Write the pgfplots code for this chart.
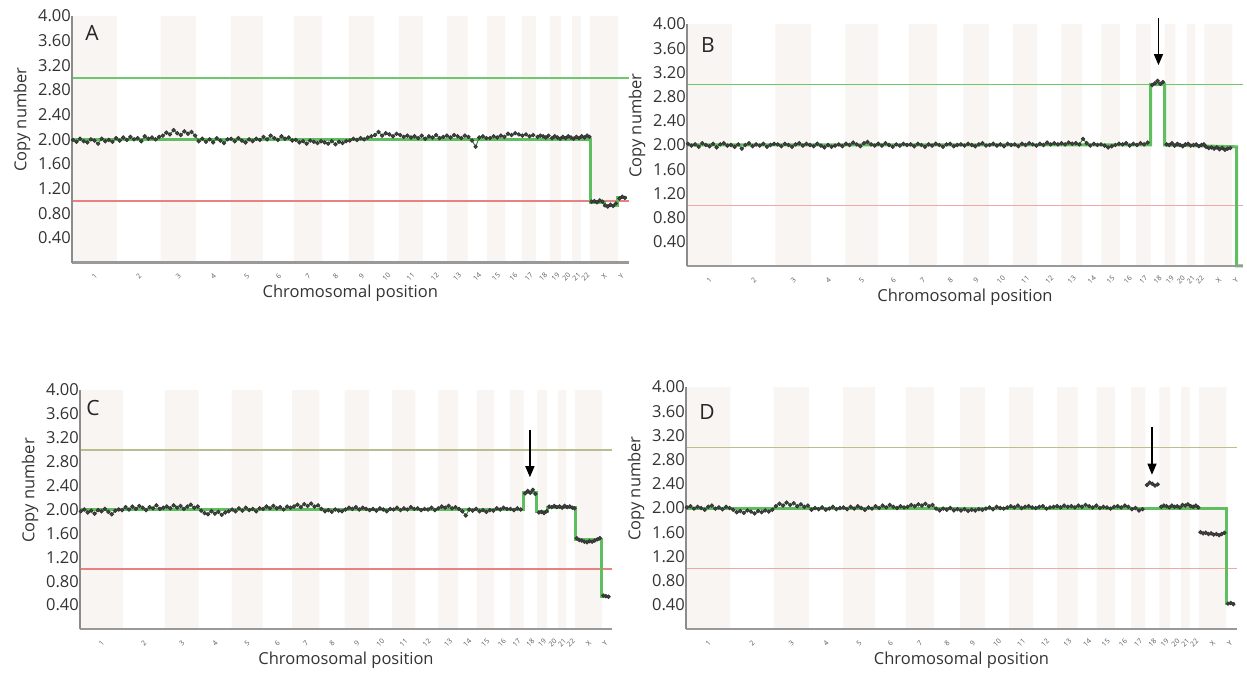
\documentclass[border=0pt]{standalone}
\usepackage{fontspec}
\setmainfont{Open Sans}
\usepackage{pgfplots}
\usepackage{pgfplotstable}
\pgfplotsset{compat=1.18}
\usetikzlibrary{arrows.meta}

\definecolor{band}{RGB}{248,245,243}
\definecolor{gainline}{RGB}{110,200,110}
\definecolor{gainlinetan}{RGB}{185,190,140}
\definecolor{lossline}{RGB}{232,130,130}
\definecolor{segline}{RGB}{95,190,95}
\definecolor{dotline}{RGB}{45,125,45}
\definecolor{labelgray}{RGB}{51,51,51}

% chromosome bands: odd chromosomes shaded (hg19 lengths, Mb, cumulative)
\pgfplotstableread{
x y
0 4
249.25 0
492.45 4
690.47 0
881.62 4
1062.54 0
1233.66 4
1392.80 0
1539.16 4
1680.37 0
1815.90 4
1950.91 0
2084.76 4
2199.93 0
2307.28 4
2409.81 0
2500.16 4
2581.36 0
2659.44 4
2718.57 0
2781.60 4
2829.73 0
2881.03 4
3036.30 0
3095.67 0
}\bands

% copy number per bin, panels A-D
\pgfplotstableread{
x A B C D
5 1.99 2.02 1.97 2.01
25 1.96 1.99 2.00 2.03
45 2.01 2.01 1.95 1.99
65 1.97 1.97 1.98 2.02
85 1.95 2.03 1.93 2.00
105 2.00 2.00 1.99 1.97
125 1.98 1.98 1.97 2.02
145 1.93 2.02 2.01 2.04
165 2.01 1.96 1.96 1.99
185 1.97 2.01 1.92 2.01
205 1.99 2.03 1.98 1.98
225 1.96 1.99 2.00 2.02
245 2.02 2.00 1.99 2.00
265 1.98 1.97 2.04 1.97
285 2.03 2.01 2.00 1.93
305 1.99 1.94 2.05 1.95
325 2.04 2.00 2.01 1.92
345 2.00 2.03 2.06 1.96
365 2.02 1.98 2.03 1.94
385 1.97 2.01 1.99 1.91
405 2.05 1.99 2.04 1.95
425 2.01 2.02 2.02 1.93
445 2.03 1.97 2.07 1.96
465 2.00 2.00 2.01 1.94
485 2.04 2.02 2.03 1.97
505 2.06 2.01 2.05 2.03
525 2.11 1.98 2.02 2.07
545 2.08 2.02 2.07 2.04
565 2.15 2.00 2.03 2.09
585 2.10 1.97 2.06 2.05
605 2.07 2.01 2.01 2.08
625 2.13 2.03 2.05 2.03
645 2.09 1.99 2.08 2.06
665 2.12 2.02 2.03 2.02
685 2.06 2.00 2.05 2.04
705 1.97 1.98 1.98 1.97
725 2.01 2.02 1.94 2.00
745 1.96 1.99 1.92 1.98
765 2.00 1.96 1.97 2.01
785 1.95 2.00 1.93 1.97
805 2.02 1.97 1.96 1.99
825 1.98 1.99 1.91 2.02
845 1.94 2.01 1.95 1.98
865 2.00 1.98 1.97 2.00
885 2.01 2.02 2.00 2.01
905 1.97 2.00 1.97 1.98
925 2.02 2.04 2.02 2.02
945 1.98 2.01 1.98 1.99
965 1.95 1.98 2.03 2.03
985 2.00 2.03 1.99 2.00
1005 1.97 2.05 2.01 1.97
1025 2.01 2.01 1.97 2.01
1045 1.99 1.99 2.02 1.99
1065 2.04 2.02 2.01 2.03
1085 2.00 1.99 2.05 2.00
1105 2.06 2.03 2.02 2.04
1125 2.02 2.00 2.06 2.01
1145 1.99 1.97 2.02 2.05
1165 2.05 2.01 2.04 2.02
1185 2.01 1.99 2.00 2.00
1205 2.03 2.02 2.05 2.03
1225 1.98 2.00 2.03 2.01
1245 1.99 2.01 2.05 2.02
1265 1.95 1.98 2.08 2.05
1285 1.97 2.02 2.04 2.03
1305 1.93 2.00 2.09 2.06
1325 1.98 1.97 2.06 2.04
1345 1.96 2.01 2.10 2.07
1365 1.94 1.99 2.05 2.03
1385 1.97 2.02 2.07 2.05
1405 1.95 2.00 2.01 1.99
1425 1.93 1.97 1.97 1.96
1445 1.97 2.01 1.99 1.99
1465 1.92 2.02 1.96 1.97
1485 1.96 1.98 2.00 2.00
1505 1.94 2.00 1.98 1.96
1525 1.97 2.01 1.97 1.98
1545 1.98 1.99 2.00 1.96
1565 2.01 2.02 2.03 1.98
1585 1.99 2.00 2.01 1.95
1605 2.02 1.98 2.04 1.97
1625 2.00 2.01 2.00 1.96
1645 2.03 2.03 2.03 1.98
1665 2.05 1.99 2.01 1.97
1685 2.07 2.00 1.99 1.99
1705 2.12 2.02 2.01 2.01
1725 2.06 1.99 1.98 1.98
1745 2.10 2.01 2.02 2.02
1765 2.08 1.98 2.00 2.00
1785 2.05 2.02 1.97 1.99
1805 2.09 2.00 2.01 2.01
1825 2.07 2.01 2.00 2.03
1845 2.04 1.98 2.03 2.01
1865 2.06 2.02 1.99 2.04
1885 2.03 2.00 2.02 2.00
1905 2.05 2.03 2.00 2.02
1925 2.02 2.01 2.04 2.03
1945 2.06 1.99 2.01 2.01
1965 2.01 2.02 2.02 2.00
1985 2.05 2.00 1.99 2.02
2005 2.03 2.04 2.01 2.03
2025 2.07 2.01 2.00 1.99
2045 2.02 2.03 2.03 2.01
2065 2.04 2.01 1.99 2.02
2085 2.06 2.03 2.02 2.03
2105 2.03 2.01 2.05 2.01
2125 2.07 2.04 2.03 2.04
2145 2.05 2.02 2.06 2.02
2165 2.02 2.03 2.02 2.03
2185 2.06 2.01 2.04 2.01
2205 2.04 2.10 2.01 2.04
2225 1.98 2.03 1.97 2.02
2245 1.88 1.99 1.90 2.05
2265 2.03 2.02 2.00 2.03
2285 2.05 2.00 1.98 2.01
2305 2.02 2.01 2.01 2.04
2325 2.02 1.99 1.97 2.00
2345 2.05 1.96 1.99 2.02
2365 2.03 1.98 1.96 2.01
2385 2.06 2.00 1.99 1.99
2405 2.04 2.02 1.98 2.02
2425 2.09 2.01 2.02 2.03
2445 2.07 2.03 2.00 2.01
2465 2.10 1.99 2.03 2.04
2485 2.08 2.02 2.01 2.02
2505 2.06 2.00 2.01 1.98
2525 2.08 2.03 1.99 2.00
2545 2.05 2.01 2.02 1.96
2565 2.07 2.04 2.00 1.98
2581 nan nan nan nan
2590 2.04 2.99 2.27 2.38
2605 2.06 3.02 2.31 2.42
2620 2.05 3.06 2.28 2.40
2635 2.03 3.01 2.33 2.37
2650 2.06 3.04 2.26 2.39
2660 nan nan nan nan
2670 2.02 2.01 1.95 2.02
2685 2.05 2.00 1.96 2.04
2700 2.03 2.03 1.94 2.03
2715 2.01 1.99 1.97 2.01
2730 2.04 2.02 2.05 2.04
2745 2.02 2.00 2.04 2.02
2760 2.05 1.98 2.06 2.03
2775 2.03 2.01 2.04 2.01
2790 2.01 2.02 2.05 2.05
2805 2.04 1.99 2.03 2.04
2820 2.02 2.00 2.06 2.06
2835 2.05 2.01 2.04 2.03
2850 2.03 1.98 2.05 2.02
2865 2.06 2.00 2.03 2.04
2878 2.04 2.01 2.02 2.01
2881 nan nan nan nan
2890 0.99 1.97 1.52 1.60
2905 1.00 1.95 1.49 1.58
2920 0.98 1.96 1.48 1.59
2935 1.01 1.94 1.46 1.57
2950 0.99 1.96 1.45 1.58
2965 0.93 1.93 1.47 1.56
2980 0.91 1.95 1.46 1.57
2995 0.94 1.92 1.48 1.55
3010 0.92 1.94 1.50 1.57
3025 0.96 1.95 1.52 1.59
3037 nan nan nan nan
3045 1.04 nan 0.56 0.42
3060 1.07 nan 0.55 0.43
3075 1.05 nan 0.54 0.41
}\cnvdata

\pgfplotsset{
  cnv/.style={
    scale only axis,
    axis on top,
    xmin=0, xmax=3095.67, ymin=0, ymax=4,
    axis x line*=bottom, axis y line*=left,
    axis line style={-},
    x axis line style={draw=black!40, line width=2.4pt},
    y axis line style={draw=black!45, line width=1.4pt},
    tick style={draw=none},
    clip=false,
    ytick={0.4,0.8,1.2,1.6,2.0,2.4,2.8,3.2,3.6,4.0},
    /pgf/number format/assume math mode=true,
    y tick label style={/pgf/number format/fixed, /pgf/number format/fixed zerofill,
      /pgf/number format/precision=2,
      font=\fontsize{16.5}{19}\selectfont, text=labelgray, inner sep=1pt},
    xtick={124.6,370.9,591.5,786.0,972.1,1148.1,1313.2,1466.0,1609.8,1748.1,1883.4,2017.8,2142.3,2253.6,2358.5,2455.0,2540.8,2620.4,2689.0,2750.1,2805.7,2855.4,2958.7,3055.0},
    xticklabels={1,2,3,4,5,6,7,8,9,10,11,12,13,14,15,16,17,18,19,20,21,22,X,Y},
    xticklabel shift=14pt,
    x tick label style={rotate=45, anchor=center, inner sep=0pt,
      font=\fontsize{7}{7}\selectfont, text=black!65},
    xlabel={Chromosomal position},
    ylabel={Copy number},
    every axis x label/.style={at={(axis description cs:0.5,0)}, anchor=center,
      yshift=-31pt, font=\fontsize{16.5}{19}\selectfont, text=labelgray},
    every axis y label/.style={at={([xshift=-50pt]axis description cs:0,0.58)},
      rotate=90, anchor=center, font=\fontsize{16.5}{19}\selectfont, text=labelgray},
  },
  bandfill/.style={const plot, fill=band, draw=none, forget plot},
  dots/.style={color=dotline, line width=0.9pt, mark=*, mark size=1.7pt,
    mark options={draw=black!80, fill=black!70}, unbounded coords=jump},
  seg/.style={color=segline, line width=3pt},
  refline/.style={line width=1.7pt},
}
\tikzset{
  arr/.style={black, line width=1.3pt, -{Triangle[width=9pt,length=11pt]}},
  letter/.style={font=\fontsize{21}{24}\selectfont, text=black!85},
}

\begin{document}
\begin{tikzpicture}[x=1pt,y=1pt]
\useasboundingbox (0,0) rectangle (1247,675);

% ---------- A ----------
\begin{axis}[cnv, at={(72pt,412.3pt)}, anchor=south west, width=556.6pt, height=246.7pt]
\addplot[bandfill] table[x=x,y=y]{\bands} \closedcycle;
\addplot[refline, gainline] coordinates {(0,3)(3095.67,3)};
\addplot[refline, lossline] coordinates {(0,1)(3095.67,1)};
\addplot[seg] coordinates {(0,2)(2881,2)(2881,0.98)(2960,0.98)(2960,0.93)(3036,0.93)(3036,1.05)(3085,1.05)};
\addplot[dots] table[x=x,y=A]{\cnvdata};
\node[letter] at (axis cs:111,3.73) {A};
\end{axis}

% ---------- B ----------
\begin{axis}[cnv, at={(687pt,409pt)}, anchor=south west, width=556pt, height=242pt]
\addplot[bandfill] table[x=x,y=y]{\bands} \closedcycle;
\addplot[refline, gainline] coordinates {(0,3)(3095.67,3)};
\addplot[refline, lossline!70!white] coordinates {(0,1)(3095.67,1)};
\addplot[seg] coordinates {(0,2)(2581,2)(2581,3)(2659,3)(2659,2)(3060,1.97)(3060,0)(3095,0)};
\addplot[dots] table[x=x,y=B]{\cnvdata};
\node[letter] at (axis cs:117,3.65) {B};
\draw[arr] (axis cs:2625,4.10) -- (axis cs:2625,3.32);
\end{axis}

% ---------- C ----------
\begin{axis}[cnv, at={(80pt,46pt)}, anchor=south west, width=532pt, height=239pt]
\addplot[bandfill] table[x=x,y=y]{\bands} \closedcycle;
\addplot[refline, gainlinetan] coordinates {(0,3)(3095.67,3)};
\addplot[refline, lossline] coordinates {(0,1)(3095.67,1)};
\addplot[seg] coordinates {(0,2)(2581,2)(2581,2.29)(2659,2.29)(2659,1.96)(2719,1.96)(2719,2.04)(2881,2.04)(2881,1.49)(3036,1.49)(3036,0.55)(3085,0.55)};
\addplot[dots] table[x=x,y=C]{\cnvdata};
\node[letter] at (axis cs:76,3.70) {C};
\draw[arr] (axis cs:2618,3.33) -- (axis cs:2618,2.54);
\end{axis}

% ---------- D ----------
\begin{axis}[cnv, at={(686pt,46pt)}, anchor=south west, width=551pt, height=242pt]
\addplot[bandfill] table[x=x,y=y]{\bands} \closedcycle;
\addplot[refline, gainlinetan] coordinates {(0,3)(3095.67,3)};
\addplot[refline, lossline!70!white] coordinates {(0,1)(3095.67,1)};
\addplot[seg] coordinates {(0,2)(3036,2)(3036,0.42)(3085,0.42)};
\addplot[dots] table[x=x,y=D]{\cnvdata};
\node[letter] at (axis cs:118,3.59) {D};
\draw[arr] (axis cs:2618,3.34) -- (axis cs:2618,2.55);
\end{axis}
\end{tikzpicture}
\end{document}
